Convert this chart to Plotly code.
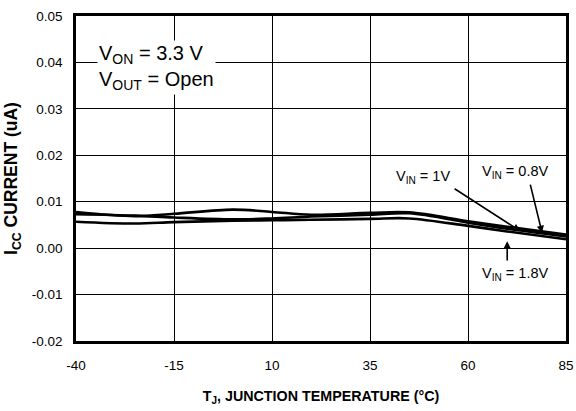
import plotly.graph_objects as go

# Junction temperature (°C) and supply current (uA) per input voltage
temp_c = [-40, -25, -15, 0, 10, 20, 35, 45, 60, 70, 85]
icc_vin_1v = [0.0078, 0.0069, 0.0074, 0.0083, 0.0078, 0.0072, 0.0076, 0.0077, 0.0058, 0.0046, 0.0029]
icc_vin_0p8v = [0.0073, 0.0070, 0.0066, 0.0062, 0.0064, 0.0068, 0.0072, 0.0075, 0.0055, 0.0042, 0.0025]
icc_vin_1p8v = [0.0057, 0.0053, 0.0056, 0.0059, 0.0060, 0.0061, 0.0063, 0.0064, 0.0048, 0.0036, 0.0019]

x_ticks = [-40, -15, 10, 35, 60, 85]
y_ticks = [-0.02, -0.01, 0.0, 0.01, 0.02, 0.03, 0.04, 0.05]

FONT = "Liberation Sans, Arial, sans-serif"

fig = go.Figure()
for name, ys in [("V<sub>IN</sub> = 1V", icc_vin_1v),
                 ("V<sub>IN</sub> = 0.8V", icc_vin_0p8v),
                 ("V<sub>IN</sub> = 1.8V", icc_vin_1p8v)]:
    fig.add_trace(go.Scatter(x=temp_c, y=ys, mode="lines", name=name,
                             line=dict(color="black", width=2.6, shape="spline", smoothing=1.0)))

fig.update_layout(
    width=576, height=411,
    margin=dict(l=76, r=10, t=16, b=70),
    paper_bgcolor="white", plot_bgcolor="white",
    showlegend=False,
    font=dict(family=FONT, size=13, color="black"),
)

fig.update_xaxes(
    range=[-40, 85], tickvals=x_ticks, ticktext=[str(v) for v in x_ticks],
    showgrid=True, gridcolor="black", gridwidth=1,
    showline=True, linecolor="black", linewidth=2.5, mirror=True,
    ticks="", zeroline=False, automargin=False, ticklabelstandoff=10,
    tickfont=dict(family=FONT, size=13.5),
    title=dict(text="<b>T<sub>J</sub>, JUNCTION TEMPERATURE (°C)</b>",
               font=dict(family=FONT, size=14.3), standoff=20),
)
fig.update_yaxes(
    range=[-0.02, 0.05], tickvals=y_ticks, ticktext=[f"{v:.2f}" for v in y_ticks],
    showgrid=True, gridcolor="black", gridwidth=1,
    showline=True, linecolor="black", linewidth=2.5, mirror=True,
    ticks="", zeroline=False, automargin=False, ticklabelstandoff=8,
    tickfont=dict(family=FONT, size=13.5),
    title=dict(text="<b>I<sub>CC</sub> CURRENT (uA)</b>",
               font=dict(family=FONT, size=17.5), standoff=10),
)

# Test conditions box
fig.add_annotation(
    x=-34.6, y=0.0448, xref="x", yref="y", xanchor="left", yanchor="top",
    text="V<sub>ON</sub> = 3.3 V<br>V<sub>OUT</sub> = Open",
    showarrow=False, align="left", bgcolor="white",
    font=dict(family=FONT, size=20), borderpad=1,
)

# Curve call-out labels
for tx, ty, label in [(48.6, 0.0153, "V<sub>IN</sub> = 1V"),
                      (72.1, 0.0164, "V<sub>IN</sub> = 0.8V"),
                      (72.1, -0.0056, "V<sub>IN</sub> = 1.8V")]:
    fig.add_annotation(x=tx, y=ty, text=label, showarrow=False,
                       font=dict(family=FONT, size=14.5))

# Call-out arrows (tail -> head on the curve)
for x0, y0, x1, y1 in [(56.2, 0.0130, 73.3, 0.0037),
                       (75.8, 0.0140, 78.9, 0.0033),
                       (70.0, -0.0030, 70.0, 0.0015)]:
    fig.add_annotation(x=x1, y=y1, ax=x0, ay=y0, axref="x", ayref="y",
                       text="", showarrow=True, arrowhead=2, arrowsize=0.9,
                       arrowwidth=1.6, arrowcolor="black", standoff=0, startstandoff=0)

fig.write_html("out.html")
